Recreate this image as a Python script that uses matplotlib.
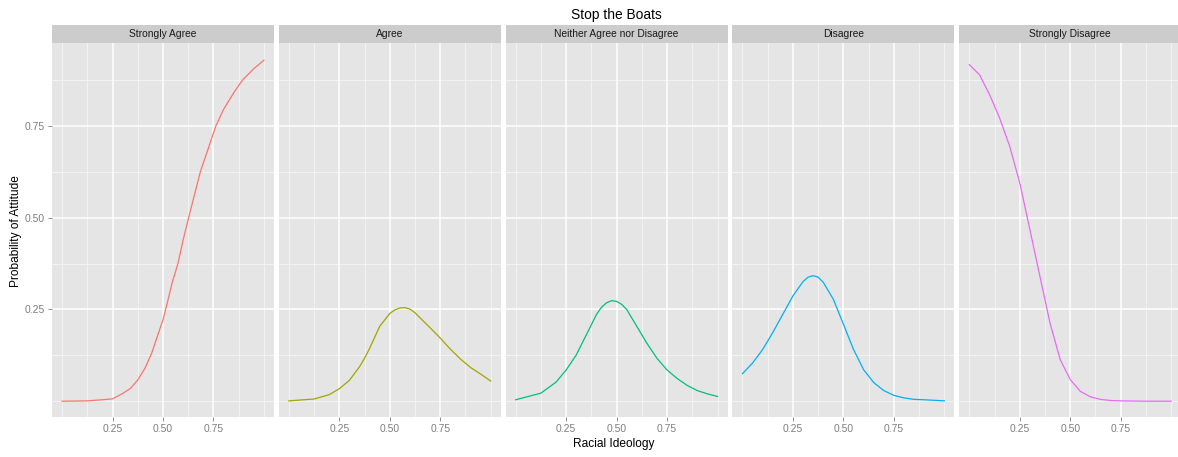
import matplotlib
matplotlib.use("Agg")
import matplotlib.pyplot as plt

plt.rcParams['font.family'] = ['Liberation Sans', 'DejaVu Sans']

# ============================================================
# Data (predicted probabilities)
# ============================================================
categories = ["Strongly Agree", "Agree", "Neither Agree nor Disagree",
              "Disagree", "Strongly Disagree"]
colors = ["#F8766D", "#A3A500", "#00BF7D", "#00B0F6", "#E76BF3"]

x_sa = [0.0, 0.125, 0.2, 0.25, 0.297, 0.339, 0.375, 0.411, 0.444, 0.477, 0.5,
        0.521, 0.545, 0.574, 0.6, 0.627, 0.685, 0.762, 0.8, 0.85, 0.894, 0.95, 1.0]
y_sa = [0.0, 0.001, 0.004, 0.0065, 0.02, 0.035, 0.058, 0.09, 0.131, 0.185, 0.222,
        0.267, 0.322, 0.375, 0.44, 0.5, 0.625, 0.75, 0.795, 0.84, 0.875, 0.906, 0.929]

x_a = [0.0, 0.125, 0.2, 0.25, 0.3, 0.35, 0.375, 0.4, 0.45, 0.5, 0.525, 0.55,
       0.575, 0.6, 0.625, 0.65, 0.7, 0.75, 0.8, 0.85, 0.9, 0.95, 1.0]
y_a = [0.001, 0.006, 0.018, 0.034, 0.057, 0.094, 0.117, 0.144, 0.204, 0.239,
       0.249, 0.254, 0.255, 0.251, 0.241, 0.227, 0.2, 0.172, 0.142, 0.115,
       0.092, 0.074, 0.055]

x_n = [0.0, 0.125, 0.2, 0.25, 0.3, 0.35, 0.4, 0.425, 0.45, 0.475, 0.5, 0.525,
       0.55, 0.6, 0.65, 0.7, 0.75, 0.8, 0.85, 0.9, 0.95, 1.0]
y_n = [0.004, 0.022, 0.052, 0.085, 0.126, 0.181, 0.236, 0.256, 0.268, 0.274,
       0.272, 0.264, 0.25, 0.204, 0.158, 0.117, 0.085, 0.062, 0.043, 0.029,
       0.02, 0.013]

x_d = [0.0, 0.05, 0.1, 0.15, 0.2, 0.25, 0.3, 0.325, 0.35, 0.375, 0.4, 0.45,
       0.5, 0.55, 0.6, 0.65, 0.7, 0.75, 0.8, 0.85, 0.9, 1.0]
y_d = [0.075, 0.104, 0.141, 0.187, 0.237, 0.287, 0.326, 0.338, 0.342, 0.338,
       0.324, 0.278, 0.21, 0.141, 0.086, 0.051, 0.029, 0.016, 0.009, 0.005,
       0.004, 0.001]

x_sd = [0.0, 0.05, 0.1, 0.125, 0.15, 0.2, 0.25, 0.3, 0.35, 0.4, 0.45, 0.5,
        0.55, 0.6, 0.65, 0.7, 0.75, 0.875, 1.0]
y_sd = [0.917, 0.89, 0.836, 0.804, 0.772, 0.695, 0.595, 0.468, 0.34, 0.213,
        0.114, 0.059, 0.027, 0.012, 0.005, 0.002, 0.001, 0.0, 0.0]

series_x = [x_sa, x_a, x_n, x_d, x_sd]
series_y = [y_sa, y_a, y_n, y_d, y_sd]

major_ticks = [0.25, 0.50, 0.75]
tick_labels = ["0.25", "0.50", "0.75"]
minor_ticks = [0.0, 0.125, 0.375, 0.625, 0.875, 1.0]

# ============================================================
# Layout (pixel based, like the ggplot original)
# ============================================================
W, H = 1178, 457
fig = plt.figure(figsize=(W / 100, H / 100), dpi=100)

panel_left0 = 52
panel_pitch = 226.8
panel_w = 222
panel_top = 43
panel_bot = 417
strip_top = 25

TICK_GREY = "#7F7F7F"

for i, cat in enumerate(categories):
    left = panel_left0 + i * panel_pitch
    ax = fig.add_axes([left / W, 1 - panel_bot / H, panel_w / W,
                       (panel_bot - panel_top) / H])
    ax.set_facecolor("#E5E5E5")
    for s in ax.spines.values():
        s.set_visible(False)

    ax.set_xlim(-0.05, 1.05)
    ax.set_ylim(-0.043, 0.976)

    # grid: minor (grey95) then major (white)
    for v in minor_ticks:
        ax.axvline(v, color="#F2F2F2", lw=0.75, zorder=0.5)
        ax.axhline(v, color="#F2F2F2", lw=0.75, zorder=0.5)
    for v in major_ticks:
        ax.axvline(v, color="white", lw=1.1, zorder=0.6)
        ax.axhline(v, color="white", lw=1.1, zorder=0.6)

    ax.plot(series_x[i], series_y[i], color=colors[i], lw=0.9, zorder=2)

    ax.set_xticks(major_ticks)
    ax.set_xticklabels(tick_labels)
    ax.tick_params(axis="x", length=3, width=0.6, color=TICK_GREY,
                   labelcolor=TICK_GREY, labelsize=7.5, pad=2)
    if i == 0:
        ax.set_yticks(major_ticks)
        ax.set_yticklabels(tick_labels)
        ax.tick_params(axis="y", length=3, width=0.6, color=TICK_GREY,
                       labelcolor=TICK_GREY, labelsize=7.5, pad=2)
    else:
        ax.set_yticks([])

    # strip on top
    sax = fig.add_axes([left / W, 1 - panel_top / H, panel_w / W,
                        (panel_top - strip_top) / H])
    sax.set_facecolor("#CCCCCC")
    for s in sax.spines.values():
        s.set_visible(False)
    sax.set_xticks([])
    sax.set_yticks([])
    sax.text(0.5, 0.5, cat, ha="center", va="center", fontsize=7.35,
             color="#1A1A1A", transform=sax.transAxes)

fig.text(616 / W, 1 - 15 / H, "Stop the Boats", ha="center", va="center",
         fontsize=9.9, color="black")
fig.text(614 / W, 1 - 444 / H, "Racial Ideology", ha="center", va="center",
         fontsize=8.6, color="black")
fig.text(16 / W, 1 - 231 / H, "Probability of Attitude", ha="center",
         va="center", rotation=90, fontsize=8.6, color="black")

fig.savefig("out.png", dpi=100, facecolor="white")
